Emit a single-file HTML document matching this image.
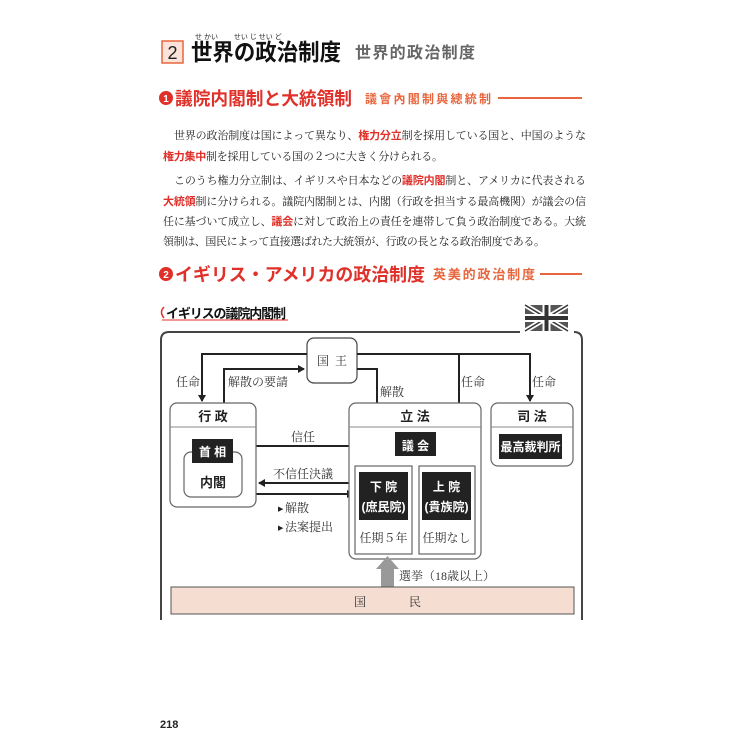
<!DOCTYPE html>
<html><head><meta charset="utf-8"><style>
html,body{margin:0;padding:0;background:#fff;}
svg{display:block;}
.m{font-family:"Liberation Serif","Noto Serif CJK SC",serif;font-size:11px;fill:#222;}
.g{font-family:"Liberation Sans","Noto Sans CJK JP",sans-serif;font-weight:bold;}
.r{fill:#e0302a;font-family:"Liberation Sans","Noto Sans CJK JP",sans-serif;font-weight:bold;}
.d{font-family:"Liberation Serif","Noto Serif CJK SC",serif;font-size:12px;fill:#333;}
.w{font-family:"Liberation Sans","Noto Sans CJK JP",sans-serif;font-weight:bold;fill:#fff;font-size:12px;}
.h{font-family:"Liberation Sans","Noto Sans CJK JP",sans-serif;font-weight:bold;font-size:13px;fill:#222;}
.f{font-family:"Liberation Sans","Noto Sans CJK JP",sans-serif;font-size:5px;fill:#444;}
</style></head><body>
<svg width="750" height="750" viewBox="0 0 750 750" xmlns="http://www.w3.org/2000/svg">
<defs>
<marker id="a" markerWidth="8" markerHeight="8" refX="6" refY="4" orient="auto" markerUnits="userSpaceOnUse"><path d="M0,0 L7,4 L0,8 z" fill="#222"/></marker>
</defs>
<!-- header -->
<rect x="162" y="41" width="21" height="22" fill="#fbe3da" stroke="#e8663d" stroke-width="1.5"/>
<text x="172.5" y="59" text-anchor="middle" font-family="Liberation Sans,sans-serif" font-size="18" fill="#222">2</text>
<text x="191" y="60" class="g" font-size="23" fill="#111" textLength="150" lengthAdjust="spacingAndGlyphs">世界の政治制度</text>
<text x="355" y="58" class="g" font-size="16" fill="#666" textLength="120">世界的政治制度</text>
<text x="195" y="39" font-family="Liberation Sans,Noto Sans CJK JP,sans-serif" font-size="7" fill="#222">せ かい　　 せい じ せい ど</text>

<circle cx="166" cy="98" r="7" fill="#e0302a"/>
<text x="166" y="102" text-anchor="middle" font-family="Liberation Sans,sans-serif" font-weight="bold" font-size="10" fill="#fff">1</text>
<text x="175" y="105" class="r" font-size="18" textLength="177" lengthAdjust="spacingAndGlyphs">議院内閣制と大統領制</text>
<text x="365" y="103" class="g" font-size="12" fill="#e8663d" textLength="126">議會內閣制與總統制</text>
<line x1="498" y1="98" x2="582" y2="98" stroke="#e8663d" stroke-width="2"/>

<!-- paragraph -->
<text x="174" y="139" class="m" textLength="412" lengthAdjust="spacing">世界の政治制度は国によって異なり、<tspan class="r">権力分立</tspan>制を採用している国と、中国のような</text>
<text x="163" y="160" class="m" textLength="280" lengthAdjust="spacing"><tspan class="r">権力集中</tspan>制を採用している国の２つに大きく分けられる。</text>
<text x="174" y="184" class="m" textLength="412" lengthAdjust="spacing">このうち権力分立制は、イギリスや日本などの<tspan class="r">議院内閣</tspan>制と、アメリカに代表される</text>
<text x="163" y="205" class="m" textLength="423" lengthAdjust="spacing"><tspan class="r">大統領</tspan>制に分けられる。議院内閣制とは、内閣（行政を担当する最高機関）が議会の信</text>
<text x="163" y="225" class="m" textLength="423" lengthAdjust="spacing">任に基づいて成立し、<tspan class="r">議会</tspan>に対して政治上の責任を連帯して負う政治制度である。大統</text>
<text x="163" y="245" class="m" textLength="382" lengthAdjust="spacing">領制は、国民によって直接選ばれた大統領が、行政の長となる政治制度である。</text>

<circle cx="166" cy="274" r="7" fill="#e0302a"/>
<text x="166" y="278" text-anchor="middle" font-family="Liberation Sans,sans-serif" font-weight="bold" font-size="10" fill="#fff">2</text>
<text x="175" y="281" class="r" font-size="18" textLength="250" lengthAdjust="spacingAndGlyphs">イギリス・アメリカの政治制度</text>
<text x="433" y="279" class="g" font-size="13" fill="#e8663d" textLength="102">英美的政治制度</text>
<line x1="540" y1="274" x2="582" y2="274" stroke="#e8663d" stroke-width="2"/>

<!-- diagram title -->
<path d="M164,307 Q159,312 164,318" stroke="#e0302a" fill="none" stroke-width="1.5"/>
<text x="166" y="318" class="g" font-size="13" fill="#111" textLength="120">イギリスの議院内閣制</text>
<line x1="162" y1="320" x2="288" y2="320" stroke="#e0302a" stroke-width="1"/>

<!-- flag -->
<g transform="translate(525,305)">
<rect width="43" height="26" fill="#555"/>
<path d="M0,0 L43,26 M43,0 L0,26" stroke="#fff" stroke-width="5"/>
<path d="M0,0 L43,26 M43,0 L0,26" stroke="#333" stroke-width="1.5"/>
<path d="M21.5,0 V26 M0,13 H43" stroke="#fff" stroke-width="8"/>
<path d="M21.5,0 V26 M0,13 H43" stroke="#333" stroke-width="4"/>
</g>

<!-- outer box -->
<path d="M520,332 H169 Q161,332 161,340 V620 M582,620 V340 Q582,332 574,332" fill="none" stroke="#444" stroke-width="2"/>

<!-- king -->
<rect x="307" y="338" width="50" height="45" rx="7" fill="#fff" stroke="#444" stroke-width="1.2"/>
<text x="332" y="365" text-anchor="middle" class="d" font-size="13" textLength="30">国王</text>

<!-- connectors -->
<g stroke="#222" stroke-width="2" fill="none">
<path d="M307,354 H202 V401" marker-end="url(#a)"/>
<path d="M357,354 H530 V401" marker-end="url(#a)"/>
<path d="M459,354 V464" marker-end="url(#a)"/>
<path d="M224,403 V369 H304" marker-end="url(#a)"/>
<path d="M357,369 H377 V464" marker-end="url(#a)"/>
<path d="M363,466 V446 H237" marker-end="url(#a)"/>
<path d="M359,483 H259" marker-end="url(#a)"/>
<path d="M256,494 H353" marker-end="url(#a)"/>
</g>

<text x="188" y="386" text-anchor="middle" class="d">任命</text>
<text x="258" y="386" text-anchor="middle" class="d">解散の要請</text>
<text x="392" y="396" text-anchor="middle" class="d">解散</text>
<text x="473" y="386" text-anchor="middle" class="d">任命</text>
<text x="544" y="386" text-anchor="middle" class="d">任命</text>
<text x="303" y="441" text-anchor="middle" class="d">信任</text>
<text x="303" y="478" text-anchor="middle" class="d">不信任決議</text>
<text x="278" y="511" font-size="7" fill="#222">▶</text><text x="285" y="512" class="d">解散</text>
<text x="278" y="530" font-size="7" fill="#222">▶</text><text x="285" y="531" class="d">法案提出</text>

<!-- executive -->
<rect x="170" y="403" width="86" height="104" rx="7" fill="#fff" stroke="#666" stroke-width="1.2"/>
<line x1="170" y1="427" x2="256" y2="427" stroke="#888"/>
<text x="213" y="421" text-anchor="middle" class="h">行 政</text>
<rect x="184" y="452" width="58" height="45" rx="7" fill="#fff" stroke="#666" stroke-width="1.2"/>
<rect x="192" y="439" width="41" height="24" fill="#222"/>
<text x="212.5" y="456" text-anchor="middle" class="w">首 相</text>
<text x="213" y="487" text-anchor="middle" class="h" font-size="12">内閣</text>

<!-- legislature -->
<rect x="349" y="403" width="132" height="156" rx="7" fill="#fff" stroke="#666" stroke-width="1.2"/>
<line x1="349" y1="427" x2="481" y2="427" stroke="#888"/>
<text x="415" y="421" text-anchor="middle" class="h">立 法</text>
<rect x="395" y="432" width="41" height="24" fill="#222"/>
<text x="415.5" y="450" text-anchor="middle" class="w">議 会</text>
<rect x="355" y="466" width="57" height="88" fill="#fff" stroke="#666" stroke-width="1.2"/>
<rect x="359" y="472" width="49" height="48" fill="#222"/>
<text x="383.5" y="491" text-anchor="middle" class="w">下 院</text>
<text x="383.5" y="511" text-anchor="middle" class="w" font-size="11">(庶民院)</text>
<text x="383.5" y="542" text-anchor="middle" class="d">任期５年</text>
<rect x="419" y="466" width="56" height="88" fill="#fff" stroke="#666" stroke-width="1.2"/>
<rect x="422" y="472" width="49" height="48" fill="#222"/>
<text x="446.5" y="491" text-anchor="middle" class="w">上 院</text>
<text x="446.5" y="511" text-anchor="middle" class="w" font-size="11">(貴族院)</text>
<text x="446.5" y="542" text-anchor="middle" class="d">任期なし</text>

<!-- judiciary -->
<rect x="491" y="403" width="82" height="63" rx="7" fill="#fff" stroke="#666" stroke-width="1.2"/>
<line x1="491" y1="427" x2="573" y2="427" stroke="#888"/>
<text x="532" y="421" text-anchor="middle" class="h">司 法</text>
<rect x="499" y="434" width="63" height="25" fill="#222"/>
<text x="530.5" y="451" text-anchor="middle" class="w" font-size="11">最高裁判所</text>

<!-- election arrow -->
<path d="M381,587 V569 H376 L387.5,556 L399,569 H394 V587 Z" fill="#999"/>
<text x="399" y="580" class="d">選挙（18歳以上）</text>

<!-- people -->
<rect x="171" y="587" width="403" height="27" fill="#f6ddd1" stroke="#555" stroke-width="1"/>
<text x="360" y="606" text-anchor="middle" class="d" font-size="13">国</text>
<text x="415" y="606" text-anchor="middle" class="d" font-size="13">民</text>

<text x="160" y="728" font-family="Liberation Sans,sans-serif" font-weight="bold" font-size="11" fill="#222">218</text>
</svg>
</body></html>
